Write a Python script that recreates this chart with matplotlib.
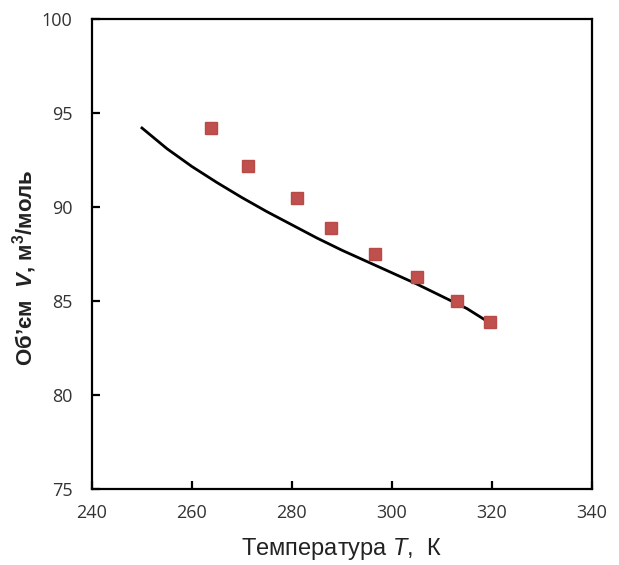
import matplotlib
matplotlib.use("Agg")
import matplotlib.pyplot as plt

# експериментальні точки
t_exp = [263.8, 271.2, 281.0, 287.8, 296.6, 305.0, 313.0, 319.6]
v_exp = [94.2, 92.2, 90.5, 88.9, 87.5, 86.3, 85.0, 83.9]

# розрахункова крива
t_calc = [250, 255, 260, 265, 270, 275, 280, 285, 290, 295, 300, 305, 310, 315, 318.6]
v_calc = [94.2, 93.1, 92.15, 91.3, 90.5, 89.75, 89.05, 88.35, 87.7, 87.1, 86.5, 85.9, 85.25, 84.6, 84.0]

x_ticks = [240, 260, 280, 300, 320, 340]
y_ticks = [75, 80, 85, 90, 95, 100]

plt.rcParams['font.family'] = ['Open Sans', 'DejaVu Sans']
plt.rcParams['mathtext.fontset'] = 'custom'
plt.rcParams['mathtext.rm'] = 'Liberation Sans'
plt.rcParams['mathtext.it'] = 'Liberation Sans:italic'
plt.rcParams['mathtext.bf'] = 'Liberation Sans:bold'
plt.rcParams['mathtext.bfit'] = 'Liberation Sans:italic:bold'

fig = plt.figure(figsize=(6.19, 5.65), dpi=100)
ax = fig.add_axes([0.1486, 0.1345, 0.8074, 0.832])

ax.plot(t_calc, v_calc, color="black", lw=2)
ax.plot(t_exp, v_exp, ls="none", marker="s", ms=9, color="#C0504D",
        markeredgecolor="#B84A47")

ax.set_xlim(240, 340)
ax.set_ylim(75, 100)
ax.set_xticks(x_ticks)
ax.set_yticks(y_ticks)

for s in ax.spines.values():
    s.set_linewidth(1.6)

ax.tick_params(axis="x", direction="in", length=6, width=1.6, pad=11,
               labelsize=13, colors="black", labelcolor="#333333")
ax.tick_params(axis="y", direction="in", length=6, width=1.6, pad=14,
               labelsize=13, colors="black", labelcolor="#333333")

ax.set_xlabel("Температура $T$,  К", fontsize=17, labelpad=10,
              family="Liberation Sans", color="#222222")
ylab = ax.set_ylabel(r"Об’єм  $\mathbfit{V}$, м$^{\mathbf{3}}$/моль", fontsize=16,
                     labelpad=2, family="Liberation Sans", fontweight="bold",
                     color="#222222")
ylab.set_y(0.47)

fig.savefig("out.png", dpi=100)
